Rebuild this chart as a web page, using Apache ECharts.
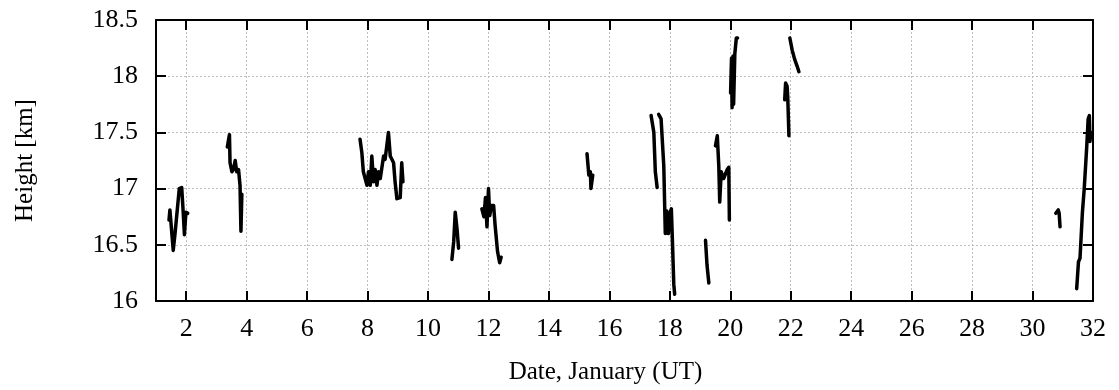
<!DOCTYPE html>
<html>
<head>
<meta charset="utf-8">
<script src="https://cdn.jsdelivr.net/npm/echarts@6/dist/echarts.min.js"></script>
<style>
  html, body { margin: 0; padding: 0; background: #fff; }
  #chart { width: 1119px; height: 390px; }
</style>
</head>
<body>
<div id="chart"></div>
<script>
// tick positions (days of January)
const dayTicks = [2, 4, 6, 8, 10, 12, 14, 16, 18, 20, 22, 24, 26, 28, 30, 32];

// each observation run: [day, height km]
const run01 = [[1.43, 16.72], [1.46, 16.81], [1.52, 16.81], [1.57, 16.45], [1.63, 16.6], [1.68, 16.6], [1.77, 17.0], [1.85, 17.01], [1.9, 16.79], [1.94, 16.59], [1.99, 16.79], [2.05, 16.78]];
const run02 = [[3.36, 17.37], [3.43, 17.48], [3.45, 17.23], [3.51, 17.15], [3.56, 17.17], [3.62, 17.25], [3.67, 17.15], [3.73, 17.17], [3.78, 17.03], [3.81, 16.62], [3.84, 16.95]];
const run03 = [[7.75, 17.44], [7.81, 17.32], [7.86, 17.15], [7.98, 17.03], [8.03, 17.15], [8.09, 17.03], [8.14, 17.29], [8.2, 17.06], [8.25, 17.17], [8.31, 17.03], [8.36, 17.15], [8.42, 17.09], [8.53, 17.29], [8.58, 17.26], [8.69, 17.5], [8.75, 17.29], [8.86, 17.23], [8.91, 17.06], [8.97, 16.91], [9.08, 16.92], [9.13, 17.23], [9.17, 17.06]];
const run04 = [[10.79, 16.37], [10.85, 16.53], [10.9, 16.79], [10.96, 16.64], [11.01, 16.47]];
const run05 = [[11.78, 16.82], [11.85, 16.75], [11.9, 16.92], [11.95, 16.66], [12.0, 17.0], [12.04, 16.76], [12.1, 16.85], [12.17, 16.85], [12.22, 16.67], [12.3, 16.44], [12.37, 16.34], [12.42, 16.39]];
const run06 = [[15.26, 17.31], [15.32, 17.12], [15.37, 17.15], [15.39, 17.0], [15.45, 17.12]];
const run07 = [[17.38, 17.65], [17.47, 17.5], [17.52, 17.15], [17.58, 17.01]];
const run08 = [[17.63, 17.66], [17.71, 17.62], [17.8, 17.2], [17.85, 16.6], [17.9, 16.8], [17.95, 16.6], [18.0, 16.78], [18.05, 16.82], [18.09, 16.5], [18.13, 16.15], [18.16, 16.06]];
const run09 = [[19.18, 16.54], [19.23, 16.32], [19.29, 16.16]];
const run10 = [[19.51, 17.38], [19.57, 17.47], [19.62, 17.2], [19.65, 16.88], [19.7, 17.15], [19.78, 17.09], [19.9, 17.17], [19.95, 17.19], [19.97, 16.72]];
const run11 = [[20.01, 17.85], [20.04, 18.16], [20.06, 17.72], [20.09, 18.18], [20.11, 17.75], [20.15, 18.2], [20.2, 18.34], [20.24, 18.34]];
const run12 = [[21.8, 17.79], [21.83, 17.94], [21.88, 17.91], [21.9, 17.82], [21.94, 17.47]];
const run13 = [[21.97, 18.34], [22.05, 18.23], [22.13, 18.15], [22.21, 18.09], [22.27, 18.04]];
const run14 = [[30.77, 16.78], [30.85, 16.81], [30.88, 16.78], [30.91, 16.66]];
const run15 = [[31.46, 16.11], [31.52, 16.35], [31.57, 16.38], [31.65, 16.79], [31.71, 17.0], [31.79, 17.36], [31.84, 17.62], [31.88, 17.65], [31.9, 17.42], [31.93, 17.5]];

const runs = [run01, run02, run03, run04, run05, run06, run07, run08, run09, run10, run11, run12, run13, run14, run15];

const FONT = "Liberation Serif";
const chart = echarts.init(document.getElementById("chart"), null, { renderer: "canvas" });

const gridLine = { show: true, lineStyle: { color: "#bdbdbd", type: [2, 2], width: 1 } };
const frameLine = { show: true, lineStyle: { color: "#000", width: 2 } };
const innerTick = { show: true, inside: true, length: 10, lineStyle: { color: "#000", width: 2 } };

chart.setOption({
  animation: false,
  grid: { left: 156, right: 26, top: 20, bottom: 87 },
  xAxis: [
    {
      type: "value",
      min: 1,
      max: 32,
      position: "bottom",
      name: "Date, January (UT)",
      nameLocation: "middle",
      nameGap: 59,
      nameTextStyle: { fontFamily: FONT, fontSize: 25, color: "#000", padding: [0, 38, 0, 0] },
      axisLine: frameLine,
      axisTick: { ...innerTick, customValues: dayTicks },
      axisLabel: { customValues: dayTicks, fontFamily: FONT, fontSize: 26, color: "#000", margin: 15 },
      splitLine: gridLine,
    },
    {
      type: "value",
      min: 1,
      max: 32,
      position: "top",
      axisLine: frameLine,
      axisTick: { ...innerTick, customValues: dayTicks },
      axisLabel: { show: false },
      splitLine: { show: false },
    },
  ],
  yAxis: [
    {
      type: "value",
      min: 16,
      max: 18.5,
      interval: 0.5,
      position: "left",
      name: "Height [km]",
      nameLocation: "middle",
      nameGap: 118,
      nameTextStyle: { fontFamily: FONT, fontSize: 25, color: "#000" },
      axisLine: frameLine,
      axisTick: innerTick,
      axisLabel: { fontFamily: FONT, fontSize: 26, color: "#000", margin: 18 },
      splitLine: gridLine,
    },
    {
      type: "value",
      min: 16,
      max: 18.5,
      interval: 0.5,
      position: "right",
      axisLine: frameLine,
      axisTick: innerTick,
      axisLabel: { show: false },
      splitLine: { show: false },
    },
  ],
  series: runs.map((run) => ({
    type: "line",
    data: run,
    symbol: "none",
    lineStyle: { color: "#000", width: 3.5, join: "round", cap: "round" },
    z: 3,
  })),
});
</script>
</body>
</html>
